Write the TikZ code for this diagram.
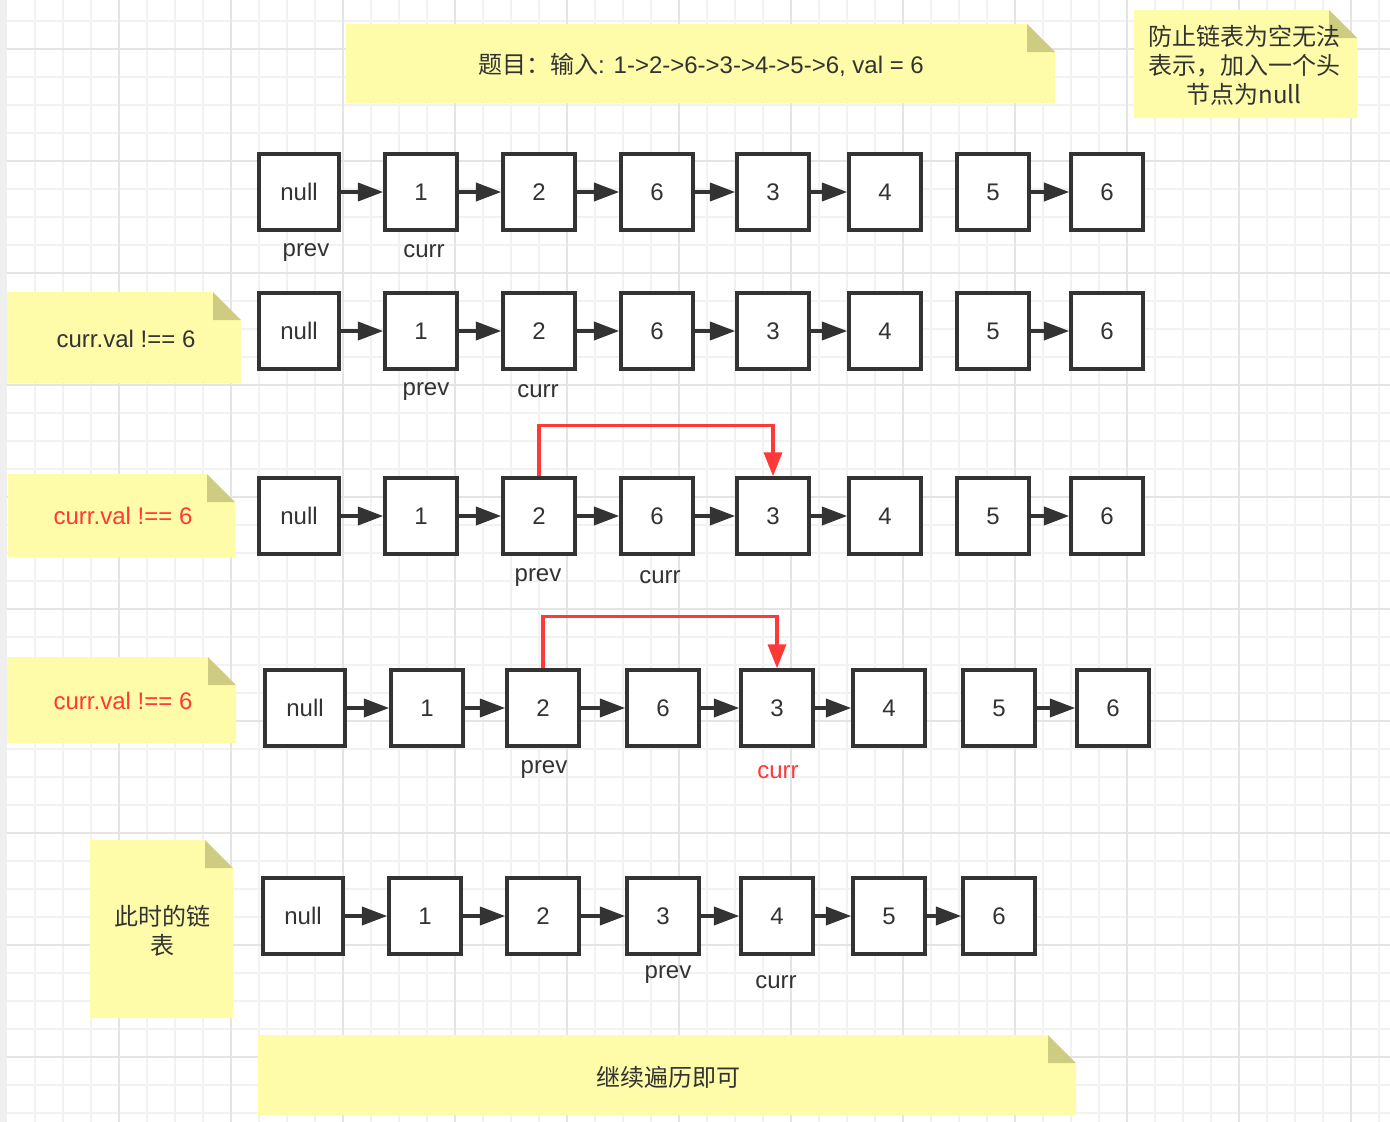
\documentclass[tikz,border=0pt]{standalone}
\usepackage{fontspec}
\setmainfont{Liberation Sans}
\newfontfamily\cjk{Noto Sans CJK SC}
\usepackage{tikz}
\usetikzlibrary{arrows.meta}

\definecolor{boxline}{HTML}{333333}
\definecolor{txt}{HTML}{333333}
\definecolor{redline}{HTML}{FF3838}
\definecolor{notebg}{HTML}{FFFCA9}
\definecolor{notefold}{HTML}{CDCC80}
\definecolor{gridminor}{HTML}{F2F2F2}
\definecolor{gridmajor}{HTML}{E4E4E4}

\begin{document}
\begin{tikzpicture}[x=0.75pt,y=-0.75pt,
	listbox/.style={draw=boxline, line width=2.6pt, fill=white, minimum width=54pt, minimum height=57pt, inner sep=0pt, text=txt, font=\fontsize{18}{22}\selectfont},
	nullbox/.style={listbox, minimum width=60pt},
	link/.style={draw=boxline, line width=2.8pt, -{Triangle[length=19pt,width=13.5pt]}},
	redlink/.style={draw=redline, line width=2.6pt, -{Triangle[length=18pt,width=13.5pt]}},
	ptr/.style={text=txt, inner sep=0pt, font=\fontsize{18}{22}\selectfont},
	notetext/.style={text=txt, align=center, inner sep=0pt, font=\cjk\fontsize{18}{21.75}\selectfont}]
					\useasboundingbox (0,0) rectangle (1390,1122);
					% Background grid
					\fill[white] (0,0) rectangle (1390,1122);
					\foreach \x in {35,63,...,1390} \draw[gridminor, line width=0.9pt] (\x,0) -- (\x,1122);
					\foreach \y in {21,49,...,1122} \draw[gridminor, line width=0.9pt] (0,\y) -- (1390,\y);
					\foreach \x in {119,231,...,1390} \draw[gridmajor, line width=1pt] (\x,0) -- (\x,1122);
					\foreach \y in {49,161,...,1122} \draw[gridmajor, line width=1pt] (0,\y) -- (1390,\y);
					\fill[gridminor!80!gridmajor] (0,0) rectangle (7,1122);
					% Sticky notes
					\foreach \xa/\ya/\xb/\yb in {346/24/1055/103, 1134/10/1357/118, 7/292/241/383, 8/474/235/557, 7/657/236/743, 90/840/233/1018, 258/1035/1076/1115}{
						\fill[notebg] (\xa,\ya) -- (\xb-28,\ya) -- (\xb,\ya+28) -- (\xb,\yb) -- (\xa,\yb) -- cycle;
						\fill[notefold] (\xb-28,\ya) -- (\xb-28,\ya+28) -- (\xb,\ya+28) -- cycle;}
					\node[notetext] (task) at (701,65) {题目：输入{\rmfamily: 1->2->6->3->4->5->6, val = 6}};
					\node[notetext] (headnote) at (1244,65) {防止链表为空无法\\表示，加入一个头\\节点为null};
					\node[ptr] (check1) at (126,339) {curr.val !== 6};
					\node[ptr, text=redline] (check2) at (123,516) {curr.val !== 6};
					\node[ptr, text=redline] (check3) at (123,701) {curr.val !== 6};
					\node[notetext] (nowlist) at (162,931) {此时的链\\表};
					\node[notetext] (goon) at (668,1077) {继续遍历即可};
					% Rows 1-3: same list
					\foreach \row/\yy in {1/192, 2/331, 3/516}{
						\node[nullbox] (r\row-0) at (299,\yy) {null};
						\foreach \i/\xx/\v in {1/421/1, 2/539/2, 3/657/6, 4/773/3, 5/885/4, 6/993/5, 7/1107/6}
							\node[listbox] (r\row-\i) at (\xx,\yy) {\v};
						\foreach \a/\b in {0/1, 1/2, 2/3, 3/4, 4/5, 6/7}
							\draw[link] (r\row-\a) -- (r\row-\b);}
					% Row 4
					\node[nullbox] (r4-0) at (305,708) {null};
					\foreach \i/\xx/\v in {1/427/1, 2/543/2, 3/663/6, 4/777/3, 5/889/4, 6/999/5, 7/1113/6}
						\node[listbox] (r4-\i) at (\xx,708) {\v};
					\foreach \a/\b in {0/1, 1/2, 2/3, 3/4, 4/5, 6/7}
						\draw[link] (r4-\a) -- (r4-\b);
					% Row 5: list after removal
					\node[nullbox] (r5-0) at (303,916) {null};
					\foreach \i/\xx/\v in {1/425/1, 2/543/2, 3/663/3, 4/777/4, 5/889/5, 6/999/6}
						\node[listbox] (r5-\i) at (\xx,916) {\v};
					\foreach \a/\b in {0/1, 1/2, 2/3, 3/4, 4/5, 5/6}
						\draw[link] (r5-\a) -- (r5-\b);
					% Skip links
					\draw[redlink] (r3-2.north) -- ++(0,-51) -| (r3-4.north);
					\draw[redlink] (r4-2.north) -- ++(0,-52) -| (r4-4.north);
					% Pointers
					\node[ptr] (prev1) at (306,253) {prev};
					\node[ptr] (curr1) at (424,251) {curr};
					\node[ptr] (prev2) at (426,392) {prev};
					\node[ptr] (curr2) at (538,391) {curr};
					\node[ptr] (prev3) at (538,578) {prev};
					\node[ptr] (curr3) at (660,577) {curr};
					\node[ptr] (prev4) at (544,770) {prev};
					\node[ptr, text=redline] (curr4) at (778,772) {curr};
					\node[ptr] (prev5) at (668,975) {prev};
					\node[ptr] (curr5) at (776,982) {curr};
				\end{tikzpicture}
\end{document}
